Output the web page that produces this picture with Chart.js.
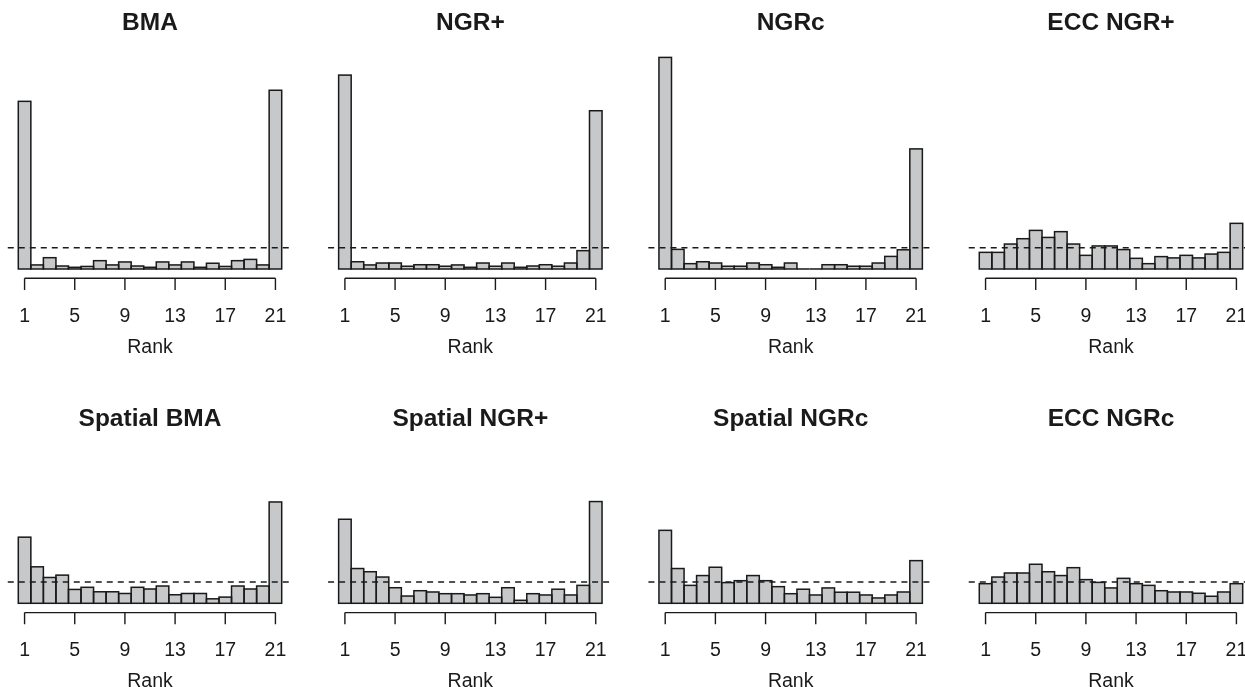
<!DOCTYPE html>
<html><head><meta charset="utf-8">
<script src="https://cdn.jsdelivr.net/npm/chart.js@4"></script>
<style>
html,body{margin:0;padding:0;background:#fff;overflow:hidden;width:1245px;height:687px;position:relative;}
canvas.cell{position:absolute;}
</style></head><body>
<script>
// ---- data (observed frequency relative to the uniform expectation 1/21) ----
const ranks = [1,2,3,4,5,6,7,8,9,10,11,12,13,14,15,16,17,18,19,20,21];
const tickLabels = [1,5,9,13,17,21];
const uniformLevel = 1;
const titles = ["BMA","NGR+","NGRc","ECC NGR+","Spatial BMA","Spatial NGR+","Spatial NGRc","ECC NGRc"];

const bma            = [7.86,0.19,0.53,0.14,0.08,0.12,0.39,0.19,0.33,0.14,0.08,0.33,0.19,0.33,0.08,0.27,0.12,0.39,0.45,0.19,8.38];
const ngrPlus        = [9.09,0.34,0.19,0.28,0.28,0.13,0.20,0.20,0.13,0.19,0.08,0.28,0.13,0.28,0.08,0.14,0.20,0.13,0.28,0.86,7.42];
const ngrc           = [9.92,0.92,0.25,0.34,0.28,0.13,0.13,0.28,0.20,0.08,0.28,0,0,0.20,0.20,0.13,0.13,0.28,0.59,0.90,5.63];
const eccNgrPlus     = [0.78,0.78,1.17,1.42,1.81,1.48,1.75,1.17,0.64,1.08,1.08,0.91,0.50,0.25,0.58,0.52,0.64,0.52,0.70,0.78,2.14];
const spatialBma     = [3.10,1.71,1.21,1.32,0.65,0.75,0.54,0.54,0.46,0.75,0.67,0.81,0.40,0.46,0.46,0.21,0.29,0.81,0.67,0.81,4.75];
const spatialNgrPlus = [3.94,1.63,1.48,1.23,0.73,0.34,0.59,0.53,0.45,0.45,0.39,0.45,0.28,0.73,0.14,0.45,0.39,0.66,0.39,0.84,4.77];
const spatialNgrc    = [3.42,1.63,0.84,1.30,1.69,0.97,1.06,1.30,1.06,0.78,0.45,0.66,0.39,0.72,0.52,0.52,0.39,0.25,0.39,0.53,2.00];
const eccNgrc        = [0.92,1.23,1.42,1.42,1.83,1.48,1.30,1.67,1.11,0.98,0.72,1.17,0.92,0.84,0.59,0.53,0.53,0.47,0.33,0.53,0.92];
const seriesList = [bma, ngrPlus, ngrc, eccNgrPlus, spatialBma, spatialNgrPlus, spatialNgrc, eccNgrc];

// ---- layout / style ----
const FILL = 'rgb(199,200,202)';
const EDGE = '#1a1a1a';
const TEXT = '#1a1a1a';
const FONT = '"Liberation Sans", Arial, Helvetica, sans-serif';
const COL_STEP = 320.33, UNIT_X = 12.543, BAR_LEFT = 18.3, PX_PER_Y = 21.33;
const X_MIN = -0.34, X_MAX = 22.34;
const rowsLayout = [
  {top: 0,   height: 360, base: 269,   yMax: 10.5, titleY: 30},
  {top: 390, height: 297, base: 603.3, yMax: 5.5,  titleY: 425.5}
];

function makePanel(i) {
  const c = i % 4, r = Math.floor(i / 4);
  const R = rowsLayout[r];
  const canvasLeft = Math.floor(c * COL_STEP);
  const frac = c * COL_STEP - canvasLeft;
  const W = 320;
  const areaW = (X_MAX - X_MIN) * UNIT_X;
  const padLeft = BAR_LEFT - (1 - 0.5 - X_MIN) * UNIT_X + frac;
  const padRight = W - padLeft - areaW;
  const padTop = R.base - R.yMax * PX_PER_Y - R.top;
  const padBottom = R.height - (R.base - R.top);

  const cv = document.createElement('canvas');
  cv.className = 'cell';
  cv.width = W; cv.height = R.height;
  cv.style.left = canvasLeft + 'px'; cv.style.top = R.top + 'px';
  cv.style.width = W + 'px'; cv.style.height = R.height + 'px';
  document.body.appendChild(cv);

  const title = titles[i];
  const titleRel = R.titleY - R.top;
  const vals = seriesList[i];

  const decor = {
    id: 'rankDecor' + i,
    afterDatasetsDraw(chart) {
      const {ctx, chartArea, scales} = chart;
      const xs = scales.x, ys = scales.y;
      const meta = chart.getDatasetMeta(0);
      ctx.save();
      ctx.strokeStyle = EDGE;
      ctx.lineWidth = 1.5;
      meta.data.forEach(bar => {
        const p = bar.getProps(['x','y','base','width'], true);
        ctx.strokeRect(p.x - p.width / 2, p.y, p.width, p.base - p.y);
      });
      // uniform reference line
      const yu = ys.getPixelForValue(uniformLevel);
      ctx.setLineDash([6, 5]);
      ctx.beginPath();
      ctx.moveTo(chartArea.left, yu);
      ctx.lineTo(chartArea.right, yu);
      ctx.stroke();
      ctx.setLineDash([]);
      // R-style x axis
      const y0 = ys.getPixelForValue(0);
      const ay = y0 + 9.3;
      ctx.lineWidth = 1.4;
      ctx.beginPath();
      ctx.moveTo(xs.getPixelForValue(ranks[0]), ay);
      ctx.lineTo(xs.getPixelForValue(ranks[ranks.length - 1]), ay);
      tickLabels.forEach(t => {
        const px = xs.getPixelForValue(t);
        ctx.moveTo(px, ay);
        ctx.lineTo(px, ay + 11.7);
      });
      ctx.stroke();
      ctx.fillStyle = TEXT;
      ctx.textAlign = 'center';
      ctx.textBaseline = 'alphabetic';
      ctx.font = '19.5px ' + FONT;
      tickLabels.forEach(t => ctx.fillText(String(t), xs.getPixelForValue(t), y0 + 52.7));
      const mid = xs.getPixelForValue((ranks[0] + ranks[ranks.length - 1]) / 2);
      ctx.fillText('Rank', mid, y0 + 83.7);
      ctx.font = 'bold 24.5px ' + FONT;
      ctx.fillText(title, mid, titleRel);
      ctx.restore();
    }
  };

  new Chart(cv, {
    type: 'bar',
    data: {
      datasets: [{
        data: ranks.map((rk, k) => ({x: rk, y: vals[k]})),
        backgroundColor: FILL,
        borderWidth: 0,
        barPercentage: 1,
        categoryPercentage: 1
      }]
    },
    options: {
      responsive: false,
      animation: false,
      events: [],
      devicePixelRatio: 1,
      layout: {padding: {left: padLeft, right: padRight, top: padTop, bottom: padBottom}},
      plugins: {legend: {display: false}, tooltip: {enabled: false}, title: {display: false}},
      scales: {
        x: {type: 'linear', display: false, offset: false, min: X_MIN, max: X_MAX},
        y: {display: false, min: 0, max: R.yMax}
      }
    },
    plugins: [decor]
  });
}

for (let i = 0; i < 8; i++) makePanel(i);
</script>
</body></html>
